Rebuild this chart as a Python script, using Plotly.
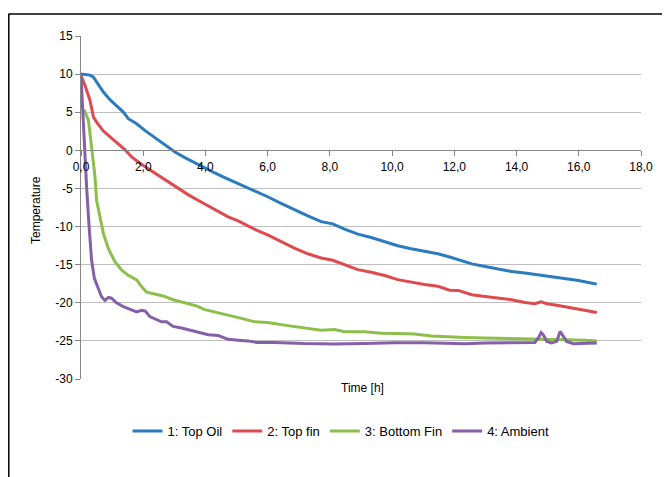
import plotly.graph_objects as go

# ---------------- data ----------------
top_oil_x = [0.0, 0.29, 0.40, 0.56, 0.72, 0.93, 1.20, 1.36, 1.52, 1.79, 2.05, 2.37, 2.70, 3.02, 3.34, 3.66,
             3.98, 4.30, 4.62, 4.94, 5.26, 5.58, 6.0, 6.43, 6.86, 7.29, 7.72, 8.09, 8.47, 8.90, 9.33,
             9.76, 10.18, 10.61, 11.04, 11.47, 11.85, 12.13, 12.56, 12.99, 13.41, 13.84, 14.27, 14.70,
             15.13, 15.56, 15.99, 16.31, 16.58]
top_oil_y = [10.0, 9.87, 9.6, 8.65, 7.64, 6.64, 5.68, 5.02, 4.15, 3.49, 2.62, 1.66, 0.66, -0.22, -0.96, -1.66,
             -2.27, -2.97, -3.58, -4.15, -4.72, -5.37, -6.09, -6.96, -7.83, -8.61, -9.35, -9.65, -10.35, -11.0, -11.43,
             -11.96, -12.52, -12.9, -13.26, -13.57, -14.0, -14.37, -14.9, -15.24, -15.55, -15.9, -16.1, -16.33,
             -16.55, -16.77, -17.07, -17.34, -17.55]

top_fin_x = [0.0, 0.13, 0.29, 0.40, 0.50, 0.72, 0.88, 1.09, 1.41, 1.63, 1.84, 2.16, 2.48, 2.80, 3.12, 3.44,
             3.76, 4.09, 4.41, 4.73, 5.05, 5.37, 5.64, 6.0, 6.43, 6.86, 7.29, 7.72, 8.09, 8.47, 8.90, 9.33,
             9.76, 10.18, 10.61, 11.04, 11.47, 11.85, 12.13, 12.56, 12.99, 13.41, 13.84, 14.27, 14.59,
             14.79, 14.97, 15.34, 15.77, 16.20, 16.58]
top_fin_y = [9.8, 8.5, 6.55, 4.37, 3.71, 2.53, 1.97, 1.22, 0.09, -0.87, -1.53, -2.4, -3.28, -4.15, -5.02, -5.81,
             -6.55, -7.29, -7.95, -8.73, -9.26, -9.91, -10.48, -11.09, -11.96, -12.83, -13.57, -14.13, -14.43, -15.0,
             -15.65, -16.0, -16.43, -16.96, -17.3, -17.6, -17.83, -18.35, -18.38, -18.95, -19.17, -19.39, -19.6,
             -19.96, -20.13, -19.87, -20.13, -20.35, -20.7, -21.0, -21.27]

bottom_fin_x = [0.10, 0.13, 0.24, 0.34, 0.45, 0.50, 0.61, 0.72, 0.88, 1.09, 1.30, 1.52, 1.79, 1.95, 2.11, 2.32,
                2.64, 2.96, 3.34, 3.71, 3.98, 4.30, 4.73, 5.16, 5.58, 6.0, 6.64, 7.29, 7.72, 8.15, 8.47, 9.11,
                9.65, 10.18, 10.72, 11.26, 11.85, 12.34, 12.99, 13.63, 14.27, 14.92, 15.56, 16.20, 16.58]
bottom_fin_y = [5.3, 5.0, 3.93, 0.44, -3.49, -6.55, -8.73, -10.9, -12.9, -14.6, -15.7, -16.4, -17.0, -17.9, -18.6,
                -18.8, -19.1, -19.6, -20.0, -20.4, -20.9, -21.2, -21.7, -22.05, -22.5, -22.6, -23.0, -23.4, -23.6,
                -23.5, -23.8, -23.8, -24.0, -24.04, -24.1, -24.35, -24.5, -24.54, -24.63, -24.67, -24.76, -24.76,
                -24.85, -24.93, -25.02]

ambient_x = [0.0, 0.04, 0.11, 0.18, 0.26, 0.34, 0.43, 0.53, 0.66, 0.77, 0.88, 0.98, 1.14, 1.36, 1.63, 1.79,
             1.95, 2.07, 2.21, 2.43, 2.59, 2.75, 2.96, 3.23, 3.50, 3.82, 4.09, 4.41, 4.73, 5.05, 5.37, 5.64,
             6.21, 7.18, 8.15, 9.11, 10.08, 11.04, 11.70, 12.34, 12.99, 13.63, 14.27, 14.59, 14.70, 14.79,
             14.86, 14.97, 15.13, 15.29, 15.40, 15.47, 15.61, 15.83, 16.20, 16.58]
ambient_y = [9.8, 6.1, 0.87, -4.8, -10.0, -14.4, -16.8, -17.9, -19.2, -19.7, -19.3, -19.4, -20.0, -20.5, -20.9, -21.2,
             -21.0, -21.1, -21.8, -22.2, -22.5, -22.5, -23.1, -23.3, -23.6, -24.0, -24.2, -24.3, -24.8, -24.9, -25.0,
             -25.2, -25.2, -25.35, -25.4, -25.35, -25.25, -25.25, -25.28, -25.37, -25.28, -25.28, -25.2, -25.2,
             -24.6, -23.9, -24.2, -25.07, -25.28, -25.07, -23.76, -24.2, -25.07, -25.37, -25.37, -25.28]

series_names = ["1: Top Oil", "2: Top fin", "3: Bottom Fin", "4: Ambient"]
series_colors = ["#2B7BC0", "#DE4A4D", "#8CBF4A", "#8460A8"]

x_tickvals = [0, 2, 4, 6, 8, 10, 12, 14, 16, 18]
x_ticktext = ["0,0", "2,0", "4,0", "6,0", "8,0", "10,0", "12,0", "14,0", "16,0", "18,0"]
y_tickvals = [15, 10, 5, 0, -5, -10, -15, -20, -25, -30]
y_ticktext = ["15", "10", "5", "0", "-5", "-10", "-15", "-20", "-25", "-30"]

FONT = "Liberation Sans"

fig = go.Figure()
for xs, ys, name, col in zip([top_oil_x, top_fin_x, bottom_fin_x, ambient_x],
                             [top_oil_y, top_fin_y, bottom_fin_y, ambient_y],
                             series_names, series_colors):
    fig.add_trace(go.Scatter(x=xs, y=ys, mode="lines", name=name,
                             line=dict(color=col, width=3)))

# page has an 8px body margin; figure is sized/margined so the plot area lands at page (81..641, 36..379)
fig.update_layout(
    width=662, height=469,
    margin=dict(l=73, r=29, t=28, b=98),
    paper_bgcolor="white", plot_bgcolor="white",
    font=dict(family=FONT, size=12, color="#000000"),
    showlegend=True,
    legend=dict(orientation="h", x=(341 - 81) / 560, xanchor="center", y=(379 - 431) / 343, yanchor="middle",
                font=dict(family=FONT, size=13), itemwidth=30, tracegroupgap=0),
    xaxis=dict(range=[0, 18], tickvals=x_tickvals, ticktext=x_ticktext,
               showgrid=False, zeroline=False,
               showline=True, linecolor="#868686", linewidth=1,
               ticks="outside", ticklen=5, tickcolor="#868686",
               anchor="free", position=30 / 45,
               tickfont=dict(family=FONT, size=12)),
    yaxis=dict(range=[-30, 15], tickvals=y_tickvals, ticktext=y_ticktext,
               showgrid=True, gridcolor="#BEBEBE", gridwidth=1, zeroline=False,
               showline=True, linecolor="#868686", linewidth=1,
               ticks="outside", ticklen=5, tickcolor="#868686",
               tickfont=dict(family=FONT, size=12)),
    annotations=[
        dict(text="Time [h]", xref="paper", yref="paper", x=(362 - 81) / 560, y=(379 - 388) / 343,
             xanchor="center", yanchor="middle", showarrow=False, font=dict(family=FONT, size=12)),
        dict(text="Temperature", xref="paper", yref="paper", x=(36 - 81) / 560, y=(379 - 210) / 343,
             xanchor="center", yanchor="middle", textangle=-90, showarrow=False,
             font=dict(family=FONT, size=12)),
    ],
    shapes=[
        dict(type="line", xref="paper", yref="paper", x0=(8.5 - 81) / 560, x1=(700 - 81) / 560,
             y0=(379 - 14) / 343, y1=(379 - 14) / 343, line=dict(color="#000000", width=1.5)),
        dict(type="line", xref="paper", yref="paper", x0=(8.8 - 81) / 560, x1=(8.8 - 81) / 560,
             y0=(379 - 14) / 343, y1=(379 - 500) / 343, line=dict(color="#000000", width=1.5)),
    ],
)

fig.write_html("out.html")
